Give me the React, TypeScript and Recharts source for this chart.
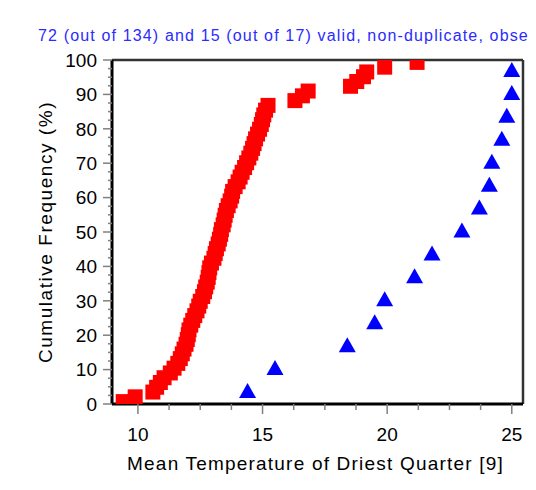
import { ScatterChart, Scatter, XAxis, YAxis, ReferenceLine, Label } from 'recharts'

// Mean temperature of driest quarter, sorted, one entry per record
const RED_TEMPS = [
  9.41, 9.89, 10.6, 10.75, 10.9, 11.05, 11.3, 11.45, 11.6, 11.7,
  11.78, 11.85, 11.93, 11.98, 12.02, 12.05, 12.12, 12.2, 12.28, 12.37,
  12.44, 12.5, 12.6, 12.67, 12.72, 12.78, 12.82, 12.85, 12.88, 12.95,
  13.05, 13.1, 13.15, 13.22, 13.27, 13.32, 13.35, 13.42, 13.46, 13.5,
  13.55, 13.62, 13.7, 13.76, 13.8, 13.9, 14.02, 14.1, 14.18, 14.28,
  14.36, 14.45, 14.53, 14.6, 14.66, 14.72, 14.8, 14.88, 14.95, 15.0,
  15.05, 15.12, 15.22, 16.3, 16.6, 16.83, 18.53, 18.78, 19.05, 19.18,
  19.9, 21.2
]
const BLUE_TEMPS = [14.4, 15.5, 18.4, 19.5, 19.9, 21.1, 21.8, 23.0, 23.7, 24.1, 24.2, 24.6, 24.8, 25.0, 25.0]

const X_MAJOR = [10, 15, 20, 25]
const X_TICKS = [10, 11.25, 12.5, 13.75, 15, 16.25, 17.5, 18.75, 20, 21.25, 22.5, 23.75, 25]
const Y_MAJOR = [0, 10, 20, 30, 40, 50, 60, 70, 80, 90, 100]
const Y_TICKS = Y_MAJOR.flatMap(v => (v < 100 ? [v, v + 2.5, v + 5, v + 7.5] : [v]))

const TITLE = '72 (out of 134) and 15 (out of 17) valid, non-duplicate, obse'
const X_LABEL = 'Mean Temperature of Driest Quarter [9]'
const Y_LABEL = 'Cumulative Frequency (%)'

const FONT = "'Liberation Sans', Arial, sans-serif"

// cumulative frequency (plotting position) for sorted observations
const toCdf = (vals: number[]) => vals.map((x, i) => ({ x, y: ((i + 0.5) / vals.length) * 100 }))
const redData = toCdf(RED_TEMPS)
const blueData = toCdf(BLUE_TEMPS)

const Square = ({ cx, cy }: any) => <rect x={cx - 7.5} y={cy - 7.5} width={15} height={15} fill="#ff0000" />

const Triangle = ({ cx, cy }: any) => (
  <polygon points={`${cx},${cy - 9.5} ${cx - 8.5},${cy + 5.5} ${cx + 8.5},${cy + 5.5}`} fill="#0000ff" />
)

const XTick = ({ x, y, payload }: any) => {
  const major = X_MAJOR.includes(payload.value)
  return (
    <g>
      <line x1={x} x2={x} y1={y - 13} y2={major ? y - 3 : y - 7} stroke="#808080" strokeWidth={1.5} />
      {major && (
        <text x={x} y={y + 24} textAnchor="middle" fontSize={19} fontFamily={FONT} fill="#000">
          {payload.value}
        </text>
      )}
    </g>
  )
}

const YTick = ({ x, y, payload }: any) => {
  const major = Y_MAJOR.includes(payload.value)
  return (
    <g>
      <line x1={major ? x + 6 : x + 11} x2={x + 15} y1={y} y2={y} stroke="#808080" strokeWidth={1.5} />
      {major && (
        <text x={x} y={y + 6.7} textAnchor="end" fontSize={19} fontFamily={FONT} fill="#000">
          {payload.value}
        </text>
      )}
    </g>
  )
}

const YLabel = ({ viewBox }: any) => {
  const cx = 52
  const cy = viewBox.y + viewBox.height / 2
  return (
    <text x={cx} y={cy} transform={`rotate(-90 ${cx} ${cy})`} textAnchor="middle" fontSize={19}
      fontFamily={FONT} letterSpacing={1.55} fill="#000">
      {Y_LABEL}
    </text>
  )
}

const XLabel = ({ viewBox }: any) => {
  const cx = viewBox.x + viewBox.width / 2
  return (
    <text x={cx - 2} y={470} textAnchor="middle" fontSize={19} fontFamily={FONT} letterSpacing={1.2} fill="#000">
      {X_LABEL}
    </text>
  )
}

export default function App() {
  return (
    <div style={{ position: 'absolute', left: 0, top: 0, width: 536, height: 490, background: '#fff', overflow: 'hidden' }}>
      <ScatterChart width={536} height={490} margin={{ top: 60, right: 13, bottom: 0, left: 0 }}>
        <XAxis
          type="number"
          dataKey="x"
          domain={[8.96, 25.45]}
          ticks={X_TICKS}
          interval={0}
          height={86}
          tickSize={10}
          tickMargin={3}
          tickLine={false}
          axisLine={{ stroke: '#000', strokeWidth: 3 }}
          tick={<XTick />}
          allowDataOverflow
        >
          <Label content={<XLabel />} />
        </XAxis>
        <YAxis
          type="number"
          dataKey="y"
          domain={[0, 100]}
          ticks={Y_TICKS}
          interval={0}
          width={112}
          tickSize={9}
          tickMargin={6}
          tickLine={false}
          axisLine={{ stroke: '#000', strokeWidth: 3 }}
          tick={<YTick />}
          allowDataOverflow
        >
          <Label content={<YLabel />} />
        </YAxis>
        <ReferenceLine y={100} stroke="#333" strokeWidth={2.5} />
        <ReferenceLine x={25.45} stroke="#333" strokeWidth={2.5} />
        <Scatter data={redData} shape={<Square />} isAnimationActive={false} />
        <Scatter data={blueData} shape={<Triangle />} isAnimationActive={false} />
      </ScatterChart>
      <svg width={536} height={490} style={{ position: 'absolute', left: 0, top: 0, pointerEvents: 'none' }}>
        <text x={38} y={41} fontSize={16} fontFamily={FONT} letterSpacing={1.15} fill="#2b2bff">
          {TITLE}
        </text>
      </svg>
    </div>
  )
}
